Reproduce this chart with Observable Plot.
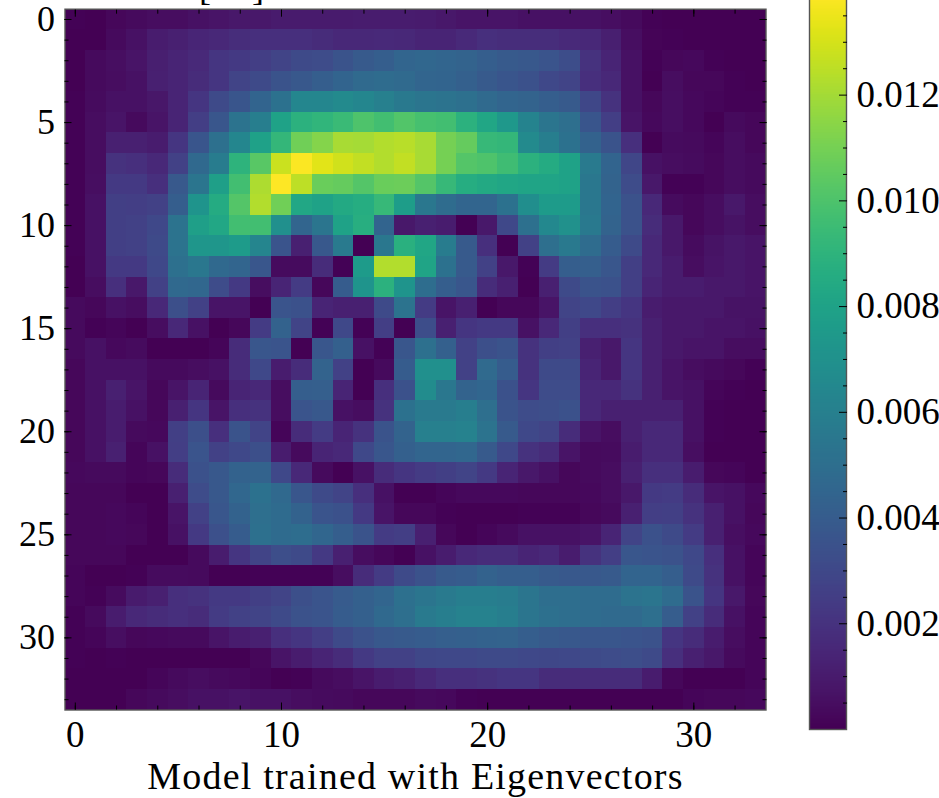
<!DOCTYPE html>
<html><head><meta charset="utf-8">
<script src="https://cdn.jsdelivr.net/npm/d3@7"></script>
<script src="https://cdn.jsdelivr.net/npm/@observablehq/plot@0.6"></script>
<style>
html,body{margin:0;padding:0;background:#fff;overflow:hidden;width:939px;height:798px}
#main,#bar,#title{position:absolute}
#main{left:0;top:0}
#bar{left:790px;top:-20px}
#title{left:0;top:0;width:939px;height:6px;overflow:hidden;font:36px "Liberation Serif",serif;color:#000}
#title span{position:absolute;bottom:0;line-height:1}
svg{overflow:hidden;display:block}
</style></head><body>
<div id="main"></div><div id="bar"></div>
<div id="title"><span style="left:199px">[</span><span style="left:252px">]</span></div>
<script>
const xLabelTicks=[0,10,20,30];
const xMinorTicks=[0,2,4,6,8,10,12,14,16,18,20,22,24,26,28,30,32];
const yLabelTicks=[0,5,10,15,20,25,30];
const barLabelTicks=[0.002,0.004,0.006,0.008,0.010,0.012];
const barMinorTicks=[0.0005,0.001,0.0015,0.0025,0.003,0.0035,0.0045,0.005,0.0055,0.0065,0.007,0.0075,0.0085,0.009,0.0095,0.0105,0.011,0.0115,0.0125,0.013,0.0135];
const xTitle="Model trained with Eigenvectors";
// values in thousandths, one list per image row
const row00=[.1,.05,.25,.35,.45,.45,.6,.75,.9,.9,1,1,1,1,1.05,1.05,1.05,1,.9,.75,.75,.75,.65,.6,.6,.6,.5,.35,.1,.05,.05,.03,.03,.02];
const row01=[.05,.02,.35,.65,1.05,1.2,1.45,1.55,1.75,1.85,1.9,1.85,1.7,1.55,1.55,1.6,1.55,1.4,1.4,1.6,1.85,1.75,1.75,1.75,1.6,1.55,1.15,.5,.15,.1,.05,.05,.02,.02];
const row02=[.05,.35,.5,.75,1.15,1.4,1.6,2.15,2.3,2.5,2.8,3.1,3.2,3.55,3.9,4.1,4.5,4.6,4.5,4.35,4.1,3.9,3.8,3.6,3.25,2,1.4,.6,.1,.25,.3,.1,.05,.02];
const row03=[.02,.35,.45,.65,1.2,1.4,1.7,2.15,2.8,3.1,3.55,3.8,4.1,4.45,4.75,4.85,4.75,4.5,4.45,4.2,3.9,3.65,3.45,3,2.8,1.85,1.55,.6,.02,.45,.25,.25,.1,.05];
const row04=[.1,.4,.6,.65,.85,1.4,2.15,3.1,3.65,4.45,5.2,6.4,6.4,6.6,6.4,6,5.6,5.4,5.3,5.1,4.75,4.5,4.35,4.1,3.9,2.95,2,.6,.25,.5,.3,.2,.1,.1];
const row05=[.1,.45,.75,.35,.75,1.4,2.5,3.7,5.3,5.9,8,8.9,9.1,9.4,10,9.7,10.1,9.8,9.7,8.9,8.2,7.4,6.2,5.4,5,3.65,2.5,.75,.3,.5,.3,.05,.35,.25];
const row06=[.1,.45,1.2,1.2,1.05,2.15,3.65,5.1,6.4,7.9,9.2,10.9,11.3,12.1,12,12.3,12.4,12.1,11,10.6,9.3,9.2,6.6,5.9,5.2,4.3,3.55,1.85,.05,.4,.35,.2,.45,.25];
const row07=[.1,.45,2,1.85,1.55,2.7,4.7,5.8,9,10.3,12.8,13.8,13.3,12.9,12.6,12.3,12.6,12.1,11,10.2,10,9.6,8.9,8.5,8,5.7,4.45,2.9,.6,.45,.4,.25,.45,.35];
const row08=[.1,.5,2.3,2.3,1.85,3.85,5.4,7.8,9.7,12.2,13.9,12.5,10.7,10.6,10.2,10.7,10.8,10.2,9.3,8.6,8.4,8.2,8.1,8.1,8,5.5,4.35,3.2,.9,.1,.1,.25,.45,.35];
const row09=[.1,.6,2.6,2.5,2.7,4.1,7.2,8.5,10.2,12.3,10.9,8.3,8,8.4,8.6,9.3,7.7,5.5,4.85,4.5,4.5,5.2,6.8,7.6,7.6,5.5,4.45,3.5,1.55,.4,.25,.45,.9,.45];
const row10=[.1,.6,2.6,2.7,3,5.3,7.8,8.3,9.7,9.7,6.9,4.5,5.4,8,8.7,4.45,.9,1.2,1.05,.05,.9,3,5.1,6.5,7,5.6,4.35,3.5,1.7,.9,.25,.45,.7,.45];
const row11=[.1,.6,2.6,2.7,3.1,5.3,7.3,7.3,7.6,6.3,3.6,1.2,3.8,5.7,.02,5.5,8.8,8.2,5.8,3.9,1.85,.05,2.7,5,5.6,4.85,4,3.1,1.55,.9,.4,.7,.9,.75];
const row12=[.02,.6,2.3,2.3,3,5.1,5.5,4.7,4.5,3.7,.4,.4,1.7,.1,7.6,12.3,12.3,8.1,5.2,3.9,2.7,.9,.1,2.4,4.1,4.15,3.7,2.6,1.55,1.05,.45,.75,.9,.75];
const row13=[.02,.45,1.85,.9,2.7,4.7,4.6,3.2,2.3,.45,1.4,2.4,.25,4,7.2,8.9,7.2,4.9,4.1,3.7,1.7,1.2,.02,1.2,3.1,3.55,3.45,2.6,1.4,1.05,1.05,.9,.9,.75];
const row14=[.35,.25,.6,.45,1.55,3.35,2.7,.75,.75,.05,3.6,3.45,1.4,1.2,1.2,3.1,5.3,2.4,.75,1.2,.02,.25,.25,.75,2.8,3,2.5,2.15,1.05,.9,.9,.9,.7,.7];
const row15=[.35,.1,.2,.05,.45,1.55,.6,.05,.25,2.4,4.3,2.8,.1,3,.1,2.5,.02,3.25,1.2,2.15,2.3,2.3,.6,1.55,2.6,1.85,1.85,2,1.2,.9,.9,.75,.75,.6];
const row16=[.35,.6,.3,.4,.05,.05,.05,.2,1.7,3.7,3.6,.02,3.7,4.2,.6,.1,3.7,5.1,4.2,2.7,3.35,3.55,2,2.6,2.7,1.2,.9,2.15,1.2,.9,.75,.75,.45,.45];
const row17=[.25,.6,.6,.6,.35,.35,.45,.6,1.7,3,1.05,1.7,4.35,2.7,.02,.35,4,6.9,6.9,2.7,4.75,4,2,3.1,3.1,1.4,.9,2.15,1.2,.75,.45,.35,.25,.1];
const row18=[.25,.6,1.2,.75,.25,.75,1.4,.35,1.4,1.55,.45,4.1,4.15,1.4,.02,1.85,3.45,6.7,5.5,4.35,4.55,3.45,2.15,3.2,3.2,1.55,1.55,2,1.2,.75,.6,.2,.1,.05];
const row19=[.25,.6,1.05,.6,.25,1.2,2.15,.75,1.85,2,.45,3.6,3.75,.6,.45,2,5.2,5.7,5.7,5.9,5,3.55,3.2,3.3,3.45,1.55,1.2,1.2,1.2,1.2,.6,.1,.05,.05];
const row20=[.25,.6,1.05,.35,.3,2.6,3.35,1.85,3.55,2.8,.2,1.7,2.4,1.4,2,3.55,4.35,6,6,6.1,5.3,3.9,3,2.8,1.7,.75,.45,1.2,1.55,1.55,.6,.1,.05,.05];
const row21=[.25,.6,1.2,.2,.6,2.5,3.6,2.7,3,3.35,1.05,.35,1.4,1.55,3,3.7,4.2,4.5,4.5,4.6,3.9,3,2,1.7,.75,.35,.4,1.05,1.55,1.55,.5,.05,.05,.05];
const row22=[.3,.35,.35,.2,.25,1.7,3.45,3.8,4.3,4.35,3,1.55,.35,.02,.6,1.7,2.15,2.4,2.6,2.8,2.3,1.4,.9,.6,.25,.35,.45,1.2,1.85,1.85,1.05,.25,.2,.05];
const row23=[.25,.25,.25,.05,.05,1.2,3.2,3.8,4.6,5.2,4.7,3.7,3.1,2.8,1.85,.6,.02,.02,.2,.3,.3,.3,.25,.25,.25,.3,.45,.9,2.3,2.4,1.7,.75,.6,.3];
const row24=[.25,.25,.3,.2,.02,.75,2.7,3.7,4.3,5,4.8,4.3,3.6,3.45,2.3,.75,.25,.25,.1,.02,.02,.05,.1,.1,.1,.25,.35,1.2,2.5,2.6,2,1.2,.6,.25];
const row25=[.25,.25,.3,.25,.05,.6,2.3,3.4,4,5.1,4.8,4.9,4.55,4.1,3.55,2.4,2.5,1.2,.25,.02,.2,.35,.6,.6,.6,.75,1.4,2.8,3.45,3.1,2.4,1.2,.5,.3];
const row26=[.25,.25,.25,.02,.05,.02,.35,1.05,2.15,2.8,3.3,3.1,2.3,1.2,.45,.25,.02,.6,1.05,1.55,1.7,1.7,1.4,1.55,1.05,2,2.5,3.7,3.6,3.5,3,1.85,.6,.2];
const row27=[.2,.02,.02,.1,.4,.4,.35,.05,.02,.1,.1,.1,.1,.45,1.7,2.4,3.1,3.5,3.9,4,4.3,4.1,4.1,3.9,3.8,3.75,3.9,4.45,4.45,4.1,3.1,2,.6,.2];
const row28=[.2,.1,.4,1,1.2,1.85,2,2.3,2.3,2.6,2.8,3.35,3.6,3.95,4.2,4.5,5.1,5.4,5.7,5.9,5.9,5.8,5.4,4.95,4.95,4.85,4.85,5.3,5.4,4.85,3.55,2.15,.9,.25];
const row29=[.1,.35,1.05,1.55,1.7,1.85,1.7,2.4,2.7,2.8,3.1,3.5,3.6,4,4.2,4.7,5,5.7,5.9,6.1,6.1,5.9,5.4,5.1,4.95,4.85,4.75,4.75,5,4.05,2.7,1.7,.6,.2];
const row30=[.1,.2,.5,.25,.3,.35,.35,.75,1.05,1.2,1.85,2.15,2.5,3.1,3.5,3.75,3.9,4,4.15,4.2,4.3,4.35,4.1,3.9,3.75,3.7,3.7,3.6,3.5,2.15,1.7,1.05,.45,.2];
const row31=[.1,.05,.1,.05,.05,.05,.05,.02,.05,.25,.75,1.05,1.4,1.7,2.3,2.7,2.7,2.95,3,3,3.1,3.1,3,2.95,3,3.1,3.2,3.3,3.1,1.85,1.2,.9,.35,.2];
const row32=[.05,.02,.05,.05,.2,.35,.45,.35,.3,.2,.02,.1,.35,.45,.75,1.05,1.2,1.55,1.85,1.85,2,2.15,2.15,1.7,1.7,1.7,1.7,1.7,1.05,.25,.05,.05,.05,.2];
const row33=[.05,.02,.02,.25,.35,.45,.6,.65,.75,.65,.6,.45,.4,.35,.25,.25,.25,.35,.3,.1,.02,.02,.02,.02,.02,.02,.02,.02,.05,.05,.2,.25,.25,.3];
const rows=[row00,row01,row02,row03,row04,row05,row06,row07,row08,row09,row10,row11,row12,row13,row14,row15,row16,row17,row18,row19,row20,row21,row22,row23,row24,row25,row26,row27,row28,row29,row30,row31,row32,row33];
const table=rows.flatMap((r,y)=>r.map((v,x)=>({x,y,v:v/1000})));
const font='"Liberation Serif",serif', fs=37;
const colorDomain=[0,0.0139];
const idx=d3.range(34);
const main=Plot.plot({
  width:790,height:798,marginLeft:64.5,marginRight:24.5,marginTop:8.7,marginBottom:88.5,
  style:{fontFamily:font,fontSize:fs+"px",background:"transparent",color:"#000"},
  x:{domain:idx,padding:0,round:false,axis:null},
  y:{domain:idx,padding:0,round:false,axis:null},
  color:{type:"linear",scheme:"viridis",domain:colorDomain},
  marks:[
    Plot.cell(table,{x:"x",y:"y",fill:"v",shapeRendering:"crispEdges"}),
    Plot.frame({stroke:"#555",strokeWidth:1.4}),
    Plot.axisX(xLabelTicks,{anchor:"bottom",tickSize:0,tickPadding:11,label:null,fontSize:fs}),
    Plot.axisY(yLabelTicks,{anchor:"left",tickSize:0,tickPadding:10,label:null,fontSize:36}),
    Plot.text([xTitle],{frameAnchor:"bottom",dy:67,fontSize:38,fill:"#000",lineAnchor:"middle",clip:false}),
    Plot.axisX(xLabelTicks,{anchor:"bottom",tickSize:-7,text:null,label:null,stroke:"#000"}),
    Plot.axisX(xLabelTicks,{anchor:"top",tickSize:-7,text:null,label:null,stroke:"#000"}),
    Plot.axisX(xMinorTicks,{anchor:"bottom",tickSize:-4,text:null,label:null,stroke:"#000"}),
    Plot.axisX(xMinorTicks,{anchor:"top",tickSize:-4,text:null,label:null,stroke:"#000"}),
    Plot.axisY(yLabelTicks,{anchor:"left",tickSize:-7,text:null,label:null,stroke:"#000"}),
    Plot.axisY(yLabelTicks,{anchor:"right",tickSize:-7,text:null,label:null,stroke:"#000"}),
    Plot.axisY(idx,{anchor:"left",tickSize:-4,text:null,label:null,stroke:"#000"}),
    Plot.axisY(idx,{anchor:"right",tickSize:-4,text:null,label:null,stroke:"#000"})
  ]
});
document.getElementById("main").append(main);
main.querySelectorAll("text").forEach(t=>{if(t.textContent===xTitle)t.style.letterSpacing="1.2px";});
const barLo=0, barHi=0.0139;
const bar=Plot.plot({
  width:149,height:769,marginLeft:19,marginRight:93,marginTop:14.2,marginBottom:20,
  style:{fontFamily:font,fontSize:fs+"px",background:"transparent",color:"#000"},
  x:{domain:[0,1],axis:null},
  y:{domain:[barLo,barHi],axis:null},
  color:{type:"linear",scheme:"viridis",domain:colorDomain},
  marks:[
    Plot.raster({fill:(x,y)=>y,x1:0,x2:1,y1:barLo,y2:barHi,pixelSize:1}),
    Plot.frame({stroke:"#555",strokeWidth:1.4}),
    Plot.axisY(barLabelTicks,{anchor:"right",tickSize:-8,text:null,label:null,stroke:"#000"}),
    Plot.axisY(barMinorTicks,{anchor:"right",tickSize:-4,text:null,label:null,stroke:"#000"}),
    Plot.axisY(barLabelTicks,{anchor:"right",tickSize:0,tickPadding:10,label:null,tickFormat:d3.format(".3f"),fontSize:fs})
  ]
});
document.getElementById("bar").append(bar);
</script></body></html>
